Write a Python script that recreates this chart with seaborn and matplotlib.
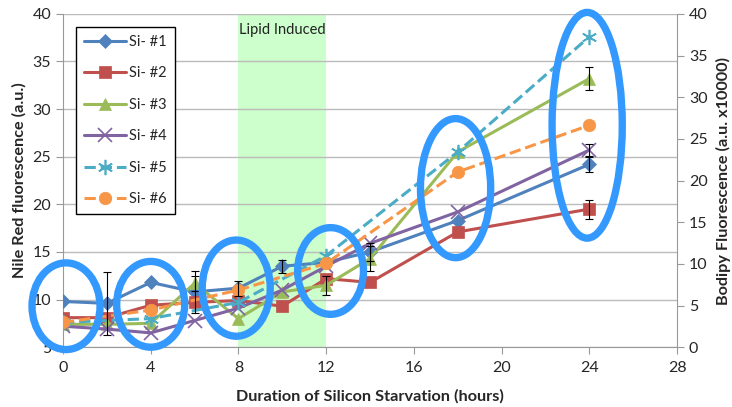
import numpy as np
import pandas as pd
import matplotlib
matplotlib.use("Agg")
import matplotlib.pyplot as plt
from matplotlib.patches import Ellipse
import seaborn as sns

# Nile Red series were sampled every 2 h, Bodipy (dashed) ones at the circled times
hours_a = [0, 2, 4, 6, 8, 10, 12, 14, 18, 24]
hours_b = [0, 4, 8, 12, 18, 24]
si1 = [9.8, 9.6, 11.8, 10.8, 11.2, 13.5, 13.9, 15.0, 18.3, 24.2]
si2 = [8.1, 8.1, 9.4, 9.7, 9.9, 9.3, 12.2, 11.8, 17.1, 19.5]
si3 = [7.4, 7.4, 7.5, 11.7, 8.0, 10.8, 11.5, 14.3, 25.5, 33.2]
si4 = [7.2, 6.9, 6.5, 7.8, 9.1, 11.0, 13.5, 15.9, 19.2, 25.7]
si5 = [7.6, 8.0, 9.7, 14.6, 25.5, 37.6]
si6 = [7.6, 8.9, 11.0, 13.8, 23.4, 28.3]

err1 = [0, 3.3, 0, 2.2, 0.8, 0.7, 0, 0.9, 0, 0.8]
err2 = [0, 0, 0, 0, 0, 0, 0, 0, 0, 1.0]
err3 = [0, 0, 0, 0.8, 0, 0, 1.0, 1.3, 0, 1.2]
err4 = [0, 0, 0, 0, 0, 0, 0, 0, 0, 0.6]

labels = ["Si- #1", "Si- #2", "Si- #3", "Si- #4", "Si- #5", "Si- #6"]
xs = [hours_a, hours_a, hours_a, hours_a, hours_b, hours_b]
values = [si1, si2, si3, si4, si5, si6]
errors = [err1, err2, err3, err4, None, None]
colors = ["#4F81BD", "#C0504D", "#9BBB59", "#8064A2", "#4BACC6", "#F79646"]
markers = ["D", "s", "^", "x", (6, 2, 0), "o"]
msizes = [7, 9, 9, 10, 11, 9]
styles = ["-", "-", "-", "-", "--", "--"]

# circled groups
circle_x = [0.14, 4.0, 7.9, 12.2, 17.9, 23.9]
circle_y = [9.3, 9.5, 11.2, 13.0, 21.7, 28.3]
circle_w = [3.1, 3.1, 3.1, 3.0, 3.2, 3.2]
circle_h = [9.1, 9.0, 10.1, 9.1, 14.6, 23.7]

sns.set_style("white")
plt.rcParams["font.family"] = ["Lato", "DejaVu Sans"]

fig = plt.figure(figsize=(7.32, 4.07), dpi=100)
ax = fig.add_axes([0.086, 0.147, 0.839, 0.819])

ax.axvspan(8, 12, color="#CCFFCC", zorder=0, lw=0)
ax.text(10, 39.0, "Lipid Induced", ha="center", va="top", fontsize=10.5, color="#222222")

for lab, x, v, e, c, m, ms, ls in zip(labels, xs, values, errors, colors, markers, msizes, styles):
    df = pd.DataFrame({"hours": x, "value": v})
    sns.lineplot(data=df, x="hours", y="value", ax=ax, color=c, marker=m,
                 markersize=ms, linestyle=ls, linewidth=2.2, label=lab,
                 markeredgecolor=c, markeredgewidth=1.2 if m in ("x", (6, 2, 0)) else 0.5,
                 zorder=3)
    if e is not None:
        hx = [h for h, ee in zip(x, e) if ee > 0]
        hy = [vv for vv, ee in zip(v, e) if ee > 0]
        he = [ee for ee in e if ee > 0]
        ax.errorbar(hx, hy, yerr=he, fmt="none", ecolor="black", elinewidth=0.8,
                    capsize=3, capthick=0.8, zorder=4)

for cx, cy, w, h in zip(circle_x, circle_y, circle_w, circle_h):
    ax.add_patch(Ellipse((cx, cy), w, h, fill=False, edgecolor="#3399FF",
                         lw=5.3, zorder=10, clip_on=False))

ax.set_xlim(0, 28)
ax.set_ylim(5, 40)
ax.set_xticks(range(0, 29, 4))
ax.set_yticks(range(5, 41, 5))
ax.grid(axis="y", color="#BBBBBB", lw=1)
ax.grid(axis="x", visible=False)
for s in ["top", "right"]:
    ax.spines[s].set_visible(False)
ax.spines["left"].set_color("#999999")
ax.spines["bottom"].set_color("#999999")
ax.tick_params(axis="both", length=5, color="#999999", labelsize=11.5, direction="out",
               left=True, bottom=True)
ax.tick_params(axis="x", pad=5)
ax.set_xlabel("Duration of Silicon Starvation (hours)", fontsize=11.7, fontweight="bold")
ax.set_ylabel("Nile Red fluorescence (a.u.)", fontsize=11.7, fontweight="bold")
ax.xaxis.set_label_coords(0.5, -0.125)
ax.yaxis.set_label_coords(-0.060, 0.5)

ax2 = ax.twinx()
ax2.set_ylim(0, 40)
ax2.set_yticks(range(0, 41, 5))
for s in ["top", "left", "bottom"]:
    ax2.spines[s].set_visible(False)
ax2.spines["right"].set_color("#999999")
ax2.tick_params(axis="y", length=5, color="#999999", labelsize=11.5, direction="out", right=True)
ax2.set_ylabel("Bodipy Fluorescence (a.u. x10000)", fontsize=11.7, fontweight="bold")
ax2.yaxis.set_label_coords(1.063, 0.5)
ax2.grid(False)

leg = ax.legend(loc="upper left", bbox_to_anchor=(0.021, 0.961), fontsize=10.5,
                handlelength=2.9, labelspacing=1.2, borderpad=0.55, borderaxespad=0,
                fancybox=False, framealpha=1, edgecolor="black", handletextpad=0.2)
leg.get_frame().set_linewidth(1.0)

fig.savefig("out.png", dpi=100)
